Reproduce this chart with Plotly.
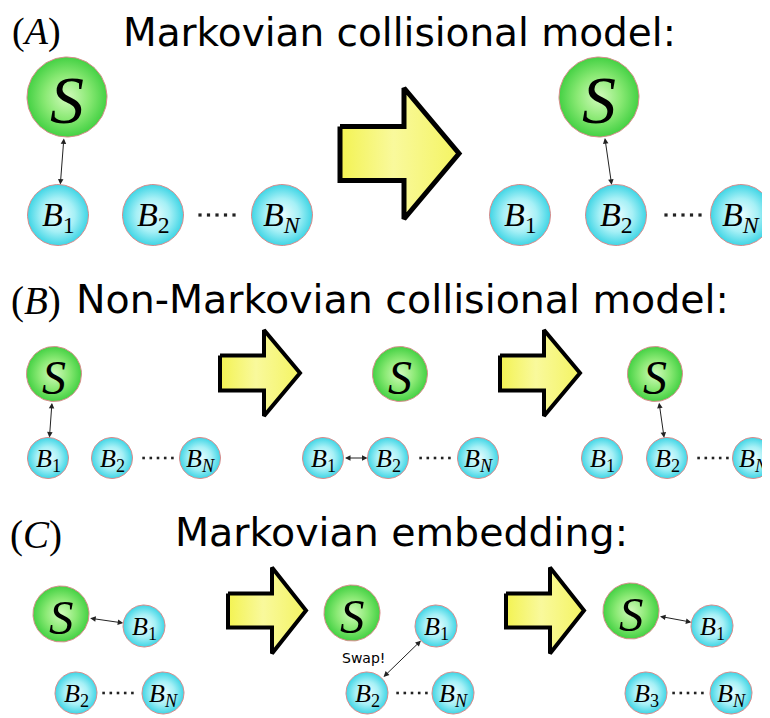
import numpy as np
import plotly.graph_objects as go

W, H = 770, 718
PAD = 8  # page body margin of the html page

# ---------------- content ----------------
panel_tags = ["(<i>A</i>)", "(<i>B</i>)", "(<i>C</i>)"]
panel_titles = ["Markovian collisional model:", "Non-Markovian collisional model:", "Markovian embedding:"]
tag_x = [36, 36, 36]
tag_y = [24, 301, 535]
title_x = [121, 74, 173]
title_y = [20, 299, 532]

# nodes: id, label, x, y
node_ids    = ["a_s1","a_b1","a_b2","a_bn","a_s2","a_b1r","a_b2r","a_bnr",
               "b_s1","b_b1","b_b2","b_bn","b_s2","b_b1m","b_b2m","b_bnm","b_s3","b_b1r","b_b2r","b_bnr",
               "c_s1","c_b1","c_b2","c_bn","c_s2","c_b1m","c_b2m","c_bnm","c_s3","c_b1r","c_b3r","c_bnr"]
node_labels = ["S","B1","B2","BN","S","B1","B2","BN",
               "S","B1","B2","BN","S","B1","B2","BN","S","B1","B2","BN",
               "S","B1","B2","BN","S","B1","B2","BN","S","B1","B3","BN"]
node_x = [67, 58, 153, 282, 599, 520, 616, 741,
          54, 48, 112, 200, 400, 323, 388, 478, 655, 602, 667, 753,
          61, 144, 76, 163, 352, 436, 367, 453, 631, 712, 646, 731]
node_y = [97, 215, 215, 215, 97, 215, 215, 215,
          374, 458, 458, 458, 374, 458, 458, 458, 374, 458, 458, 458,
          614, 626, 693, 693, 613, 626, 693, 693, 611, 626, 693, 693]
panel_of = ["A"]*8 + ["B"]*12 + ["C"]*12

# interactions (double arrows)
links = [("a_s1","a_b1"), ("a_s2","a_b2r"),
         ("b_s1","b_b1"), ("b_b1m","b_b2m"), ("b_s3","b_b2r"),
         ("c_s1","c_b1"), ("c_b2m","c_b1m"), ("c_s3","c_b1r")]

# ellipsis dots between B_k and B_N
dots_x = [217, 683, 158, 435, 713, 118, 412, 688]
dots_y = [215, 215, 458, 458, 458, 693, 693, 693]
dots_panel = ["A","A","B","B","B","C","C","C"]

# big step arrows: left, head back, tip, centre y, body half, head half, outline width
big_arrows = [(340, 404, 459, 153.5, 27, 65.5, 5),
              (220, 264, 300, 373, 17.5, 43, 4),
              (500, 544, 580, 373, 17.5, 43, 4),
              (228, 272, 306, 610.5, 17, 43, 4),
              (506, 550, 584, 610.5, 17, 43, 4)]

# ---------------- styles ----------------
sizes = {"A": dict(rS=40, rB=30.5, fS=68, fB=34, dot=3.2, dsp=8.5),
         "B": dict(rS=27.5, rB=20.5, fS=48, fB=26, dot=2.6, dsp=7.2),
         "C": dict(rS=28, rB=21, fS=49, fB=26, dot=2.6, dsp=7.2)}
GREEN = [[0, "#d2fbbc"], [0.55, "#8ae974"], [1, "#44d144"]]
CYAN = [[0, "#eefeff"], [0.55, "#a6f0f6"], [1, "#3fd5e5"]]
YELLOW = [[0, "#f3f352"], [0.45, "#f9f99c"], [1, "#f4f462"]]
OUTLINE = "#d98c8c"
SERIF = "Liberation Serif"
SANS = "DejaVu Sans"

fig = go.Figure()
theta = np.linspace(0, 2*np.pi, 121)

def label_html(lab):
    if lab == "S":
        return "<i>S</i>"
    sub = lab[1:]
    if sub == "N":
        sub = "<i>N</i>"
    return "<i>B</i><sub>%s</sub>" % sub

pos = {}
for nid, lab, x, y, p in zip(node_ids, node_labels, node_x, node_y, panel_of):
    s = sizes[p]
    isS = lab == "S"
    r = s["rS"] if isS else s["rB"]
    pos[nid] = (x, y, r)
    fig.add_trace(go.Scatter(
        x=x + r*np.cos(theta), y=y + r*np.sin(theta), mode="lines",
        fill="toself", fillgradient=dict(type="radial", colorscale=GREEN if isS else CYAN),
        line=dict(color=OUTLINE, width=1), hoverinfo="skip", showlegend=False))
    fig.add_annotation(x=x, y=y + (3 if isS else 2), text=label_html(lab), showarrow=False,
                       xanchor="center", yanchor="middle",
                       font=dict(family=SERIF, size=s["fS"] if isS else s["fB"], color="black"))

# ellipsis dots
for x, y, p in zip(dots_x, dots_y, dots_panel):
    s = sizes[p]
    xs = x + s["dsp"]*np.arange(-2, 3)
    fig.add_trace(go.Scatter(x=xs, y=[y]*5, mode="markers",
                             marker=dict(symbol="square", size=s["dot"], color="#222"),
                             hoverinfo="skip", showlegend=False))

# interaction arrows
for a, b in links:
    x0, y0, r0 = pos[a]
    x1, y1, r1 = pos[b]
    d = np.hypot(x1-x0, y1-y0)
    ux, uy = (x1-x0)/d, (y1-y0)/d
    sx, sy = x0 + ux*r0, y0 + uy*r0
    ex, ey = x1 - ux*r1, y1 - uy*r1
    fig.add_annotation(x=ex, y=ey, ax=sx, ay=sy, xref="x", yref="y", axref="x", ayref="y",
                       text="", showarrow=True, arrowhead=2, startarrowhead=2,
                       arrowside="end+start", arrowsize=1.1, startarrowsize=1.1,
                       arrowwidth=1, arrowcolor="#222", standoff=0, startstandoff=0)

fig.add_annotation(x=363, y=658, text="Swap!", showarrow=False,
                   font=dict(family=SANS, size=14, color="black"))

# big yellow arrows
for (xl, xb, xt, yc, bh, hh, lw) in big_arrows:
    px = [xl, xb, xb, xt, xb, xb, xl, xl]
    py = [yc-bh, yc-bh, yc-hh, yc, yc+hh, yc+bh, yc+bh, yc-bh]
    fig.add_trace(go.Scatter(x=px, y=py, mode="lines", fill="toself",
                             fillgradient=dict(type="horizontal", colorscale=YELLOW),
                             line=dict(color="black", width=lw, shape="linear"),
                             hoverinfo="skip", showlegend=False))

# titles
for i, (tg, tt, tx, tgy, ttx, ty) in enumerate(zip(panel_tags, panel_titles, tag_x, tag_y,
                                                   title_x, title_y)):
    if i == 0:
        # keep the top row of text inside the page
        fig.add_annotation(x=tx, y=PAD, text=tg, showarrow=False, xanchor="center", yanchor="top",
                           font=dict(family=SERIF, size=38, color="black"))
        fig.add_annotation(x=ttx, y=PAD, text=tt, showarrow=False, xanchor="left", yanchor="top",
                           font=dict(family=SANS, size=39, color="black"))
    else:
        fig.add_annotation(x=tx, y=tgy, text=tg, showarrow=False, xanchor="center",
                           yanchor="middle", font=dict(family=SERIF, size=39, color="black"))
        fig.add_annotation(x=ttx, y=ty, text=tt, showarrow=False, xanchor="left",
                           yanchor="middle", font=dict(family=SANS, size=39.5, color="black"))

# figure placed inside the page margin so that axis units equal window pixels
fig.update_layout(width=W - PAD, height=H - PAD, margin=dict(l=0, r=0, t=0, b=0),
                  paper_bgcolor="white", plot_bgcolor="white", showlegend=False,
                  xaxis=dict(range=[PAD, W], visible=False, fixedrange=True),
                  yaxis=dict(range=[H, PAD], visible=False, fixedrange=True))
fig.write_html("out.html")
